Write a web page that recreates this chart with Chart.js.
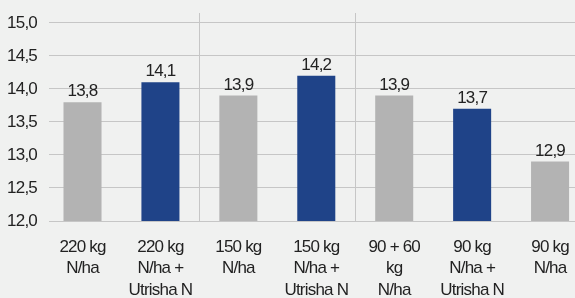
<!DOCTYPE html>
<html>
<head>
<meta charset="utf-8">
<script src="https://cdn.jsdelivr.net/npm/chart.js@4"></script>
<style>
html,body{margin:0;padding:0;background:#f0f1f0;}
#wrap{width:575px;height:298px;position:relative;}
</style>
</head>
<body>
<div id="wrap"><canvas id="c"></canvas></div>
<script>
const categories = [
  ["220 kg", "N/ha"],
  ["220 kg", "N/ha +", "Utrisha N"],
  ["150 kg", "N/ha"],
  ["150 kg", "N/ha +", "Utrisha N"],
  ["90 + 60", "kg", "N/ha"],
  ["90 kg", "N/ha +", "Utrisha N"],
  ["90 kg", "N/ha"]
];
const values = [13.8, 14.1, 13.9, 14.2, 13.9, 13.7, 12.9];
const barColors = ["#b3b3b3", "#1f4388", "#b3b3b3", "#1f4388", "#b3b3b3", "#1f4388", "#b3b3b3"];
const yTicks = [12.0, 12.5, 13.0, 13.5, 14.0, 14.5, 15.0];
const separatorIndexes = [2, 4];

const X_START = -0.43;   // category range start (plot continues past the right edge)
const X_RANGE = 6.75;

const FONT = "'Liberation Sans', Arial, sans-serif";
const FSIZE = 17;
const SPACING = '-0.8px';
const fmt = v => v.toFixed(1).replace('.', ',');

const spacingPlugin = {
  id: 'narrowText',
  beforeUpdate(chart) { chart.ctx.letterSpacing = SPACING; },
  beforeLayout(chart) { chart.ctx.letterSpacing = SPACING; },
  beforeDraw(chart) { chart.ctx.letterSpacing = SPACING; }
};

const labelPlugin = {
  id: 'valueLabels',
  afterDatasetsDraw(chart) {
    const ctx = chart.ctx;
    const meta = chart.getDatasetMeta(0);
    ctx.save();
    ctx.letterSpacing = SPACING;
    ctx.fillStyle = '#222222';
    ctx.font = FSIZE + "px " + FONT;
    ctx.textAlign = 'center';
    ctx.textBaseline = 'alphabetic';
    meta.data.forEach((bar, i) => {
      ctx.fillText(fmt(values[i]), bar.x, bar.y - 6);
    });
    ctx.restore();
  }
};

new Chart(document.getElementById('c'), {
  type: 'bar',
  data: {
    labels: categories,
    datasets: [{
      data: values,
      backgroundColor: barColors,
      borderWidth: 0,
      barPercentage: 0.488,
      categoryPercentage: 1.0
    }]
  },
  options: {
    responsive: true,
    maintainAspectRatio: false,
    animation: false,
    devicePixelRatio: 1,
    layout: { padding: { top: 13, right: 0, left: 0, bottom: 0 } },
    plugins: { legend: { display: false }, tooltip: { enabled: false } },
    scales: {
      x: {
        offset: true,
        border: { display: false },
        grid: {
          offset: true,
          drawTicks: false,
          lineWidth: 1,
          color: c => separatorIndexes.includes(c.index) ? '#c6c6c6' : 'rgba(0,0,0,0)'
        },
        afterBuildTicks: s => { s._startValue = X_START; s._valueRange = X_RANGE; },
        ticks: {
          color: '#222222',
          font: { family: FONT, size: FSIZE, lineHeight: 1.28 },
          padding: 15,
          maxRotation: 0,
          autoSkip: false
        },
        afterFit: s => { s.height = 77; s.paddingLeft = 0; s.paddingRight = 0; }
      },
      y: {
        min: yTicks[0],
        max: 15.15,
        border: { display: false },
        grid: { drawTicks: false, color: '#c6c6c6', lineWidth: 1 },
        afterBuildTicks: s => { s.ticks = yTicks.map(v => ({ value: v })); },
        ticks: {
          color: '#222222',
          font: { family: FONT, size: FSIZE },
          padding: 12,
          callback: v => fmt(v)
        },
        afterFit: s => { s.width = 49; s.paddingTop = 0; s.paddingBottom = 0; }
      }
    }
  },
  plugins: [spacingPlugin, labelPlugin]
});
</script>
</body>
</html>
